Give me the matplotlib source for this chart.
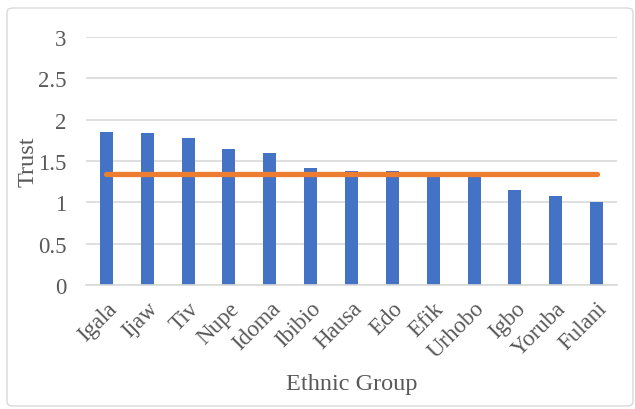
import matplotlib.pyplot as plt
from matplotlib.patches import FancyBboxPatch

groups = ['Igala', 'Ijaw', 'Tiv', 'Nupe', 'Idoma', 'Ibibio', 'Hausa',
          'Edo', 'Efik', 'Urhobo', 'Igbo', 'Yoruba', 'Fulani']
trust = [1.85, 1.84, 1.78, 1.65, 1.60, 1.42, 1.38,
         1.38, 1.33, 1.33, 1.15, 1.08, 1.00]
mean_trust = [1.345] * len(groups)

plt.rcParams['font.family'] = ['Liberation Serif', 'DejaVu Serif']
text_col = '#595959'

fig = plt.figure(figsize=(6.35, 4.1), dpi=100)
ax = fig.add_axes([86 / 635, 1 - 286 / 410, 531 / 635, 248 / 410])

x = range(len(groups))
ax.bar(x, trust, width=0.32, color='#4472C4', zorder=2)
ax.plot(x, mean_trust, color='#ED7D31', linewidth=3.8,
        solid_capstyle='round', zorder=3)

ax.set_xlim(-0.5, len(groups) - 0.5)
ax.set_ylim(0, 3)
ax.set_yticks([0, 0.5, 1, 1.5, 2, 2.5, 3])
ax.set_yticklabels(['0', '0.5', '1', '1.5', '2', '2.5', '3'])
ax.set_xticks(list(x))
ax.set_xticklabels(groups, rotation=45, ha='right', rotation_mode='anchor')
ax.yaxis.grid(True, color='#D9D9D9', linewidth=1.2, zorder=0)
ax.tick_params(axis='both', length=0, labelsize=16.5, colors=text_col)
ax.tick_params(axis='x', pad=9)
ax.tick_params(axis='y', pad=14)
for s in ['top', 'right', 'left']:
    ax.spines[s].set_visible(False)
ax.spines['bottom'].set_color('#D9D9D9')
ax.spines['bottom'].set_linewidth(1.2)

ax.set_ylabel('Trust', fontsize=17.5, color=text_col)
ax.yaxis.set_label_coords(-0.09, 0.5)
ax.set_xlabel('Ethnic Group', fontsize=17.5, color=text_col)
ax.xaxis.set_label_coords(0.5, -0.355)

frame = FancyBboxPatch((7 / 635, 3 / 410), 626 / 635, 398 / 410,
                       boxstyle='round,pad=0,rounding_size=0.01',
                       transform=fig.transFigure, facecolor='none',
                       edgecolor='#D9D9D9', linewidth=1.0)
fig.patches.append(frame)

fig.savefig('out.png', dpi=100)
